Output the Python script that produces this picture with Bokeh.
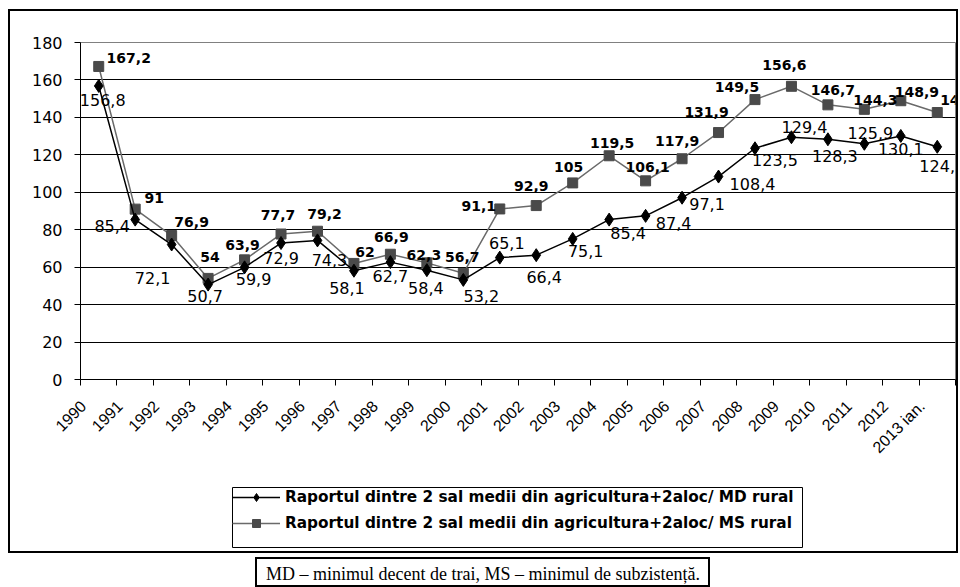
import math
from bokeh.plotting import figure
from bokeh.models import (ColumnDataSource, Range1d, FixedTicker, Legend,
                          LegendItem, Spacer)
from bokeh.layouts import column, row
from bokeh.embed import file_html
from bokeh.resources import INLINE
from bokeh.core.properties import value

# ---------------- data ----------------
years = ["1990", "1991", "1992", "1993", "1994", "1995", "1996", "1997",
         "1998", "1999", "2000", "2001", "2002", "2003", "2004", "2005",
         "2006", "2007", "2008", "2009", "2010", "2011", "2012", "2013 ian."]

md_values = [156.8, 85.4, 72.1, 50.7, 59.9, 72.9, 74.3, 58.1, 62.7, 58.4,
             53.2, 65.1, 66.4, 75.1, 85.4, 87.4, 97.1, 108.4, 123.5, 129.4,
             128.3, 125.9, 130.1, 124.3]

ms_values = [167.2, 91, 76.9, 54, 63.9, 77.7, 79.2, 62, 66.9, 62.3,
             56.7, 91.1, 92.9, 105, 119.5, 106.1, 117.9, 131.9, 149.5, 156.6,
             146.7, 144.3, 148.9, 142.6]

y_ticks = [0, 20, 40, 60, 80, 100, 120, 140, 160, 180]

md_name = "Raportul dintre 2 sal medii din agricultura+2aloc/ MD rural"
ms_name = "Raportul dintre 2 sal medii din agricultura+2aloc/ MS rural"
footnote = "MD \u2013 minimul decent de trai, MS \u2013 minimul de subzisten\u021b\u0103."

# ------------- label placement (screen px, layout only) -------------
md_dx = [4, -23, -19, -3, 9, 0, 12, -7, 0, -1, 18, 7, 8, 13, 19, 28, 25, 34, 20, 13, 7, 6, 0, 5]
md_dy = [14, 6, 33, 11, 12, 15, 20, 17, 14, 18, 16, -15, 22, 12, 13, 7, 6, 7, 12, -10, 17, -11, 13, 19]
ms_dx = [30, 19, 20, 2, -2, -3, 7, 11, 1, -3, -1, -21, -5, -4, 3, 2, -5, -12, -18, -7, 5, 11, 16, 25]
ms_dy = [-8, -11, -14, -21, -15, -19, -17, -11, -17, -8, -16, -3, -20, -16, -13, -14, -18, -21, -13, -21, -15, -9, -9, -13]


def fmt(v):
    if float(v).is_integer():
        return str(int(v))
    return f"{v:.1f}".replace(".", ",")


idx = list(range(len(years)))

md_src = ColumnDataSource(dict(x=idx, y=md_values,
                               label=[fmt(v) for v in md_values],
                               dx=md_dx, dy=md_dy))
ms_src = ColumnDataSource(dict(x=idx, y=ms_values,
                               label=[fmt(v) for v in ms_values],
                               dx=ms_dx, dy=ms_dy))

FONT = "Liberation Sans"
WIDE = "DejaVu Sans"
MS_LINE = "#6a6a6a"
MS_MARK = "#4a4a4a"

p = figure(width=946, height=476, output_backend="svg", toolbar_location=None,
           title=None,
           x_range=Range1d(-0.5, len(years) - 0.5), y_range=Range1d(0, 180),
           min_border_left=70, min_border_right=1, min_border_top=31,
           min_border_bottom=108)
p.background_fill_color = "white"
p.border_fill_color = "white"
p.outline_line_color = "#808080"
p.outline_line_width = 1

# x axis: tick marks at category boundaries, rotated labels ending just
# right of each category's left boundary (as in the original)
label_ticks = [i - 0.42 for i in idx]
p.xaxis.ticker = FixedTicker(ticks=label_ticks,
                             minor_ticks=[i - 0.5 for i in range(len(years) + 1)])
p.xaxis.major_label_overrides = {t: years[i] for i, t in enumerate(label_ticks)}
p.xaxis.major_label_orientation = math.pi / 4
p.xaxis.major_tick_line_color = None
p.xaxis.minor_tick_line_color = "black"
p.xaxis.minor_tick_in = 0
p.xaxis.minor_tick_out = 6
p.xaxis.major_label_standoff = 18
p.xaxis.major_label_text_font = FONT
p.xaxis.major_label_text_font_size = "16px"
p.xaxis.major_label_text_color = "black"
p.xaxis.axis_line_color = "black"

p.yaxis.ticker = FixedTicker(ticks=y_ticks)
p.yaxis.major_tick_in = 0
p.yaxis.major_tick_out = 6
p.yaxis.major_tick_line_color = "black"
p.yaxis.minor_tick_line_color = None
p.yaxis.major_label_text_font = WIDE
p.yaxis.major_label_text_font_size = "16px"
p.yaxis.major_label_text_color = "black"
p.yaxis.major_label_standoff = 12
p.yaxis.axis_line_color = "black"

p.xgrid.visible = False
p.ygrid.grid_line_color = "black"
p.ygrid.grid_line_width = 1

# series
p.line("x", "y", source=ms_src, line_color=MS_LINE, line_width=1.5)
p.scatter("x", "y", source=ms_src, marker="square", size=10,
          fill_color=MS_MARK, line_color=MS_MARK)
p.line("x", "y", source=md_src, line_color="black", line_width=1.5)
p.scatter("x", "y", source=md_src, marker="diamond", size=13,
          fill_color="black", line_color="black")

# data labels
p.text("x", "y", text="label", source=md_src, x_offset="dx", y_offset="dy",
       text_align="center", text_baseline="middle", text_font=value(WIDE),
       text_font_size="16px", text_color="black")
p.text("x", "y", text="label", source=ms_src, x_offset="dx", y_offset="dy",
       text_align="center", text_baseline="middle", text_font=value(WIDE),
       text_font_size="14px", text_font_style="bold", text_color="black")

# ---------------- legend (own small canvas, boxed) ----------------
lf = figure(width=571, height=61, output_backend="svg", toolbar_location=None,
            title=None, x_range=Range1d(0, 1), y_range=Range1d(0, 1),
            min_border=0)
lf.axis.visible = False
lf.grid.visible = False
lf.outline_line_color = "black"
lf.outline_line_width = 1
# renderers that only lend their style to the legend (their point lies
# outside the visible range)
hidden = dict(x=[5], y=[5])
l_md_line = lf.line(x="x", y="y", source=ColumnDataSource(hidden),
                    line_color="black", line_width=1.5)
l_md_pts = lf.scatter(x="x", y="y", source=ColumnDataSource(hidden),
                      marker="diamond", size=13, fill_color="black",
                      line_color="black")
l_ms_line = lf.line(x="x", y="y", source=ColumnDataSource(hidden),
                    line_color=MS_LINE, line_width=1.5)
l_ms_pts = lf.scatter(x="x", y="y", source=ColumnDataSource(hidden),
                      marker="square", size=10, fill_color=MS_MARK,
                      line_color=MS_MARK)
legend = Legend(items=[LegendItem(label=md_name, renderers=[l_md_line, l_md_pts]),
                       LegendItem(label=ms_name, renderers=[l_ms_line, l_ms_pts])],
                location="top_left", orientation="vertical",
                border_line_color=None, background_fill_alpha=0,
                label_text_font=WIDE, label_text_font_style="bold",
                label_text_color="black",
                label_text_font_size="15.3px", glyph_width=48, glyph_height=20,
                label_height=20, spacing=6, padding=5, margin=0,
                label_standoff=5)
lf.add_layout(legend)

chart_box = column(p, row(Spacer(width=222), lf), Spacer(height=3),
                   styles={"border": "2px solid black"})

# footnote box
f = figure(width=451, height=26, output_backend="svg", toolbar_location=None,
           title=None, x_range=Range1d(0, 1), y_range=Range1d(0, 1),
           min_border=0)
f.axis.visible = False
f.grid.visible = False
f.outline_line_color = None
f.text(x=[0.5], y=[0.45], text=[footnote], text_align="center",
       text_baseline="middle", text_font=value("Liberation Serif"),
       text_font_size="18px", text_color="black")
foot_box = column(f, styles={"border": "2px solid black"})

layout = row(Spacer(width=8),
             column(Spacer(height=9), chart_box, Spacer(height=4),
                    row(Spacer(width=247), foot_box)))

open("out.html", "w").write(file_html(layout, INLINE))
